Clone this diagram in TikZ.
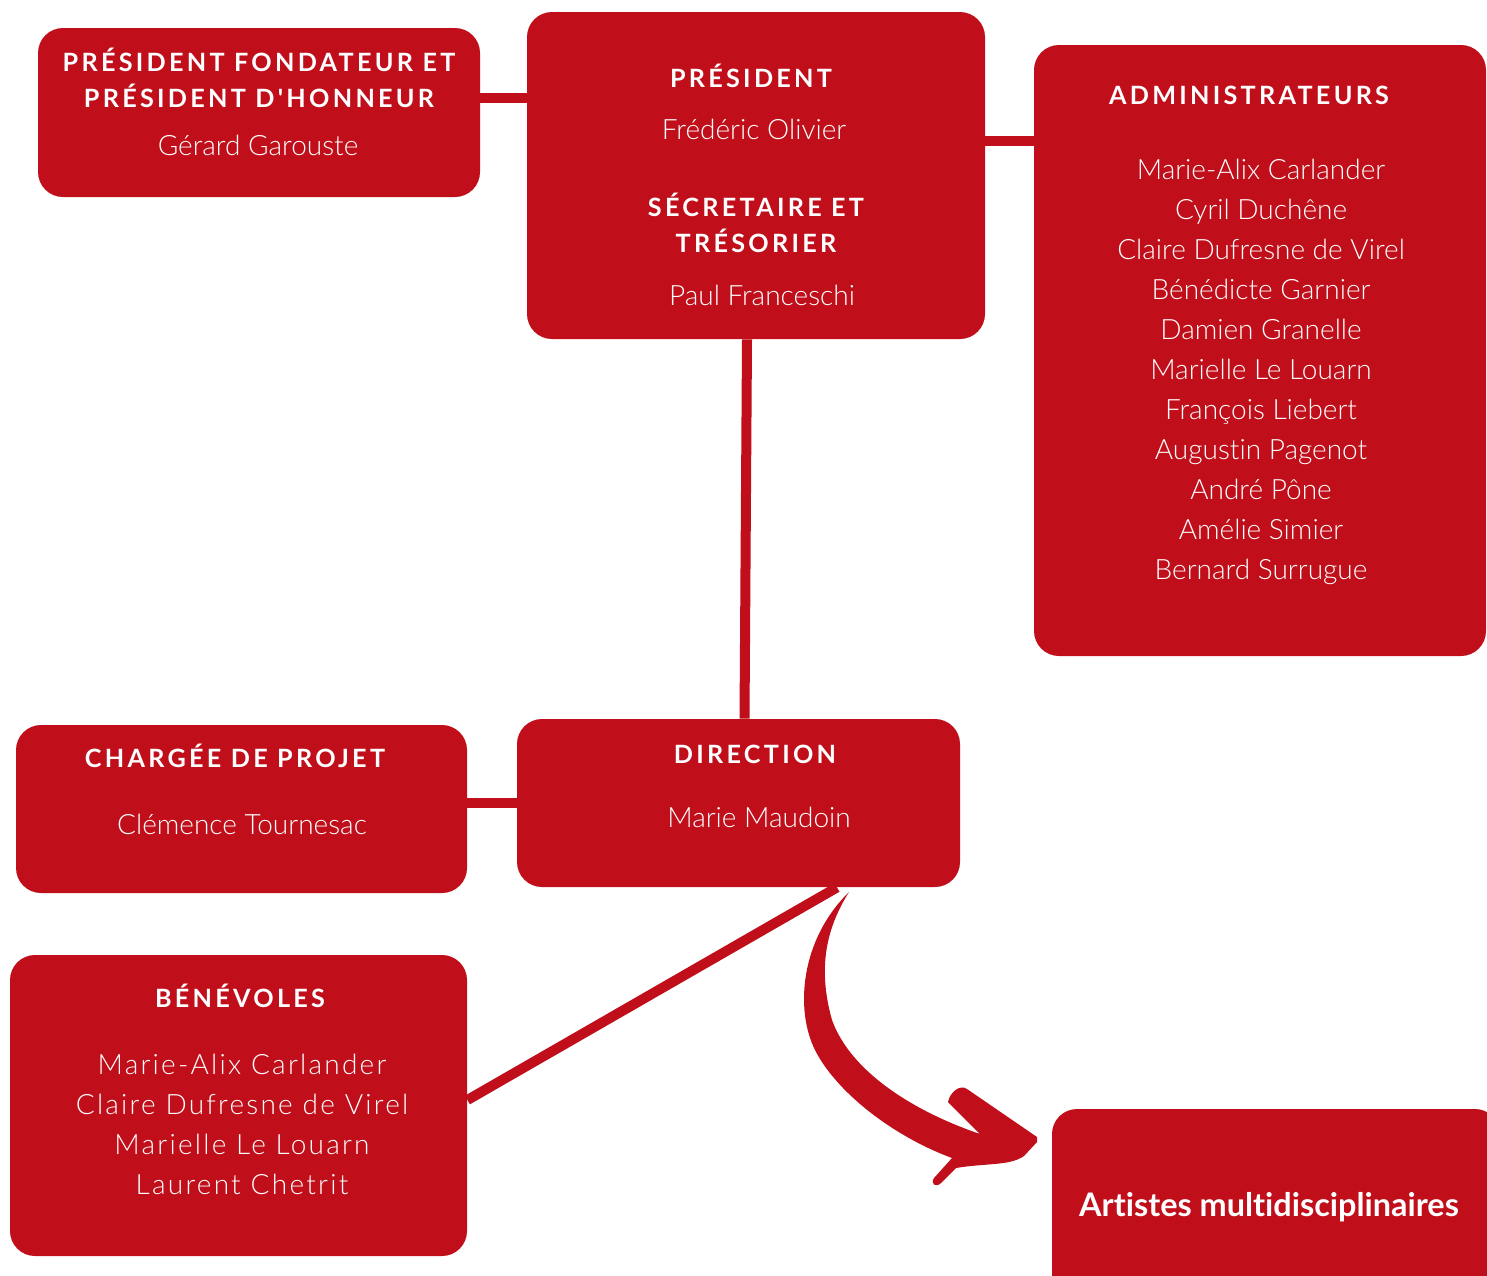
\documentclass[tikz,border=0pt]{standalone}
\usepackage{fontspec}
\usetikzlibrary{fit}
\IfFontExistsTF{Lato Light}{\newfontfamily\bodyfont[Ligatures=NoCommon]{Lato Light}\newfontfamily\benfont[LetterSpace=8,Ligatures=NoCommon]{Lato Light}}{\newfontfamily\bodyfont[Ligatures=NoCommon]{Lato}\newfontfamily\benfont[LetterSpace=8,Ligatures=NoCommon]{Lato}}
\newfontfamily\headfont[LetterSpace=13,Ligatures=NoCommon]{Lato}
\newfontfamily\artfont[Ligatures=NoCommon]{Lato}
\definecolor{rouge}{RGB}{192,15,27}
\tikzset{
  box/.style={fill=rouge, draw=none, rounded corners=12.5pt, inner sep=0pt},
  conn/.style={draw=rouge, line width=5pt},
  hd/.style={text=white, inner sep=0pt, anchor=base, font=\headfont\bfseries\fontsize{12.6}{15}\selectfont},
  nm/.style={text=white, inner sep=0pt, anchor=base, font=\bodyfont\fontsize{14}{17}\selectfont},
  bn/.style={text=white, inner sep=0pt, anchor=base, font=\benfont\fontsize{14}{17}\selectfont},
  art/.style={text=white, inner sep=0pt, anchor=base, font=\artfont\bfseries\fontsize{16.2}{19}\selectfont},
}
\begin{document}
\begin{tikzpicture}[x=0.5pt,y=0.5pt]
\useasboundingbox (0,0) rectangle (1487,-1275);
% boxes
\node[box, fit={(38,-28)(480,-197)}] (fond) {};
\node[box, fit={(527,-12)(985,-339)}] (pres) {};
\node[box, fit={(1034,-45)(1486,-656)}] (adm) {};
\node[box, fit={(16,-725)(467,-893)}] (charg) {};
\node[box, fit={(517,-719)(960,-887)}] (dir) {};
\node[box, fit={(10,-955)(467,-1256)}] (ben) {};
\node[box, fit={(1052,-1109)(1500,-1310)}] (art) {};
% helper coordinates
\coordinate (h0) at (0,-98);
\coordinate (h1) at (0,-141);
\coordinate (h2) at (0,-803);
% connectors
\draw[conn] (fond.east |- h0) -- (pres.west |- h0);
\draw[conn] (pres.east |- h1) -- (adm.west |- h1);
\draw[conn] ([xshift=-4.5pt]pres.south) -- ([xshift=3pt]dir.north);
\draw[conn] (charg.east |- h2) -- (dir.west |- h2);
\draw[conn] ([xshift=49.25pt]dir.south) -- ([yshift=2.75pt]ben.east);
% curved brush arrow
\fill[rouge] (849,-892) .. controls (800,-940) and (795,-1010) .. (815,-1050)
  .. controls (835,-1090) and (890,-1135) .. (952,-1158)
  -- (934,-1178) .. controls (930,-1184) and (936,-1188) .. (941,-1183)
  -- (956,-1168) .. controls (985,-1163) and (1010,-1166) .. (1024,-1156)
  -- (1037,-1142) -- (1037,-1137) -- (967,-1089)
  .. controls (960,-1084) and (950,-1092) .. (948,-1102)
  -- (980,-1134) .. controls (910,-1110) and (850,-1070) .. (832,-1020)
  .. controls (818,-970) and (825,-930) .. (849,-892) -- cycle;
% texts
\node[hd] (t1) at (259,-71) {PRÉSIDENT FONDATEUR ET};
\node[hd] (t2) at (259,-107) {PRÉSIDENT D'HONNEUR};
\node[nm] (t3) at (258,-155) {Gérard Garouste};
\node[hd] (t4) at (751,-87) {PRÉSIDENT};
\node[nm] (t5) at (754,-139) {Frédéric Olivier};
\node[hd] (t6) at (756,-216) {SÉCRETAIRE ET};
\node[hd] (t7) at (756,-252) {TRÉSORIER};
\node[nm] (t8) at (762,-305) {Paul Franceschi};
\node[hd] (t9) at (1249,-104) {ADMINISTRATEURS};
\node[nm] (a1) at (1261,-179) {Marie-Alix Carlander};
\node[nm] (a2) at (1261,-219) {Cyril Duchêne};
\node[nm] (a3) at (1261,-259) {Claire Dufresne de Virel};
\node[nm] (a4) at (1261,-299) {Bénédicte Garnier};
\node[nm] (a5) at (1261,-339) {Damien Granelle};
\node[nm] (a6) at (1261,-379) {Marielle Le Louarn};
\node[nm] (a7) at (1261,-419) {François Liebert};
\node[nm] (a8) at (1261,-459) {Augustin Pagenot};
\node[nm] (a9) at (1261,-499) {André Pône};
\node[nm] (a10) at (1261,-539) {Amélie Simier};
\node[nm] (a11) at (1261,-579) {Bernard Surrugue};
\node[hd] (c1) at (235,-767) {CHARGÉE DE PROJET};
\node[nm] (c2) at (242,-834) {Clémence Tournesac};
\node[hd] (d1) at (755,-763) {DIRECTION};
\node[nm] (d2) at (759,-827) {Marie Maudoin};
\node[hd] (b1) at (240,-1007) {BÉNÉVOLES};
\node[bn] (b2) at (242,-1074) {Marie-Alix Carlander};
\node[bn] (b3) at (242,-1114) {Claire Dufresne de Virel};
\node[bn] (b4) at (242,-1154) {Marielle Le Louarn};
\node[bn] (b5) at (242,-1194) {Laurent Chetrit};
\node[art] (ar) at (1269,-1216) {Artistes multidisciplinaires};
\end{tikzpicture}
\end{document}
